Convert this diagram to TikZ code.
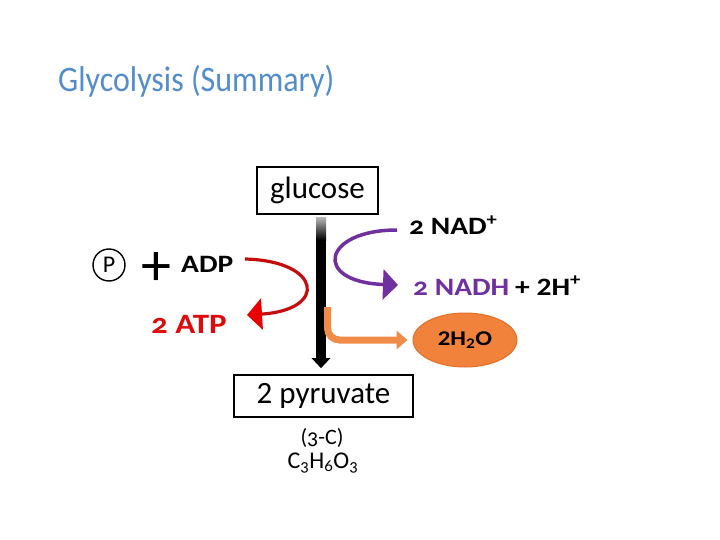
\documentclass[tikz,border=0pt]{standalone}
\usepackage{fontspec}
\setmainfont{Carlito}
\newfontfamily\cand[Numbers=OldStyle]{Carlito}
\newfontfamily\candw[Numbers=OldStyle,FakeStretch=1.18]{Carlito}
\newfontfamily\candl[FakeStretch=1.18]{Carlito}
\usetikzlibrary{arrows.meta,shapes.geometric}
\definecolor{titleblue}{RGB}{84,141,204}
\definecolor{arrred}{RGB}{196,14,14}
\definecolor{tipred}{RGB}{232,0,0}
\definecolor{txtred}{RGB}{225,10,10}
\definecolor{arrpurple}{RGB}{112,48,160}
\definecolor{arrorange}{RGB}{240,140,72}
\definecolor{ellfill}{RGB}{240,130,60}
\definecolor{elldraw}{RGB}{228,112,40}
\tikzset{
  box/.style={draw=black, line width=1.6pt, inner sep=0pt, font=\fontsize{31}{34}\selectfont},
  boldlbl/.style={inner sep=0pt, font=\candw\bfseries\fontsize{25}{28}\selectfont},
  bigarrow/.style={draw=black, line width=10pt, -{Triangle[length=10pt,width=18pt]}},
  redarrow/.style={draw=arrred, line width=3.2pt, -{Triangle[length=15pt,width=31pt,fill=tipred,color=tipred]}},
  purparrow/.style={draw=arrpurple, line width=3.5pt, -{Triangle[length=15pt,width=30pt]}},
  orarrow/.style={draw=arrorange, line width=7pt, rounded corners=12pt, -{Triangle[length=11pt,width=18pt]}},
}
\begin{document}
\begin{tikzpicture}[x=1pt,y=-1pt]
\useasboundingbox (0,0) rectangle (720,540);
\fill[white] (0,0) rectangle (720,540);
% title
\node[anchor=base west, inner sep=0pt, text=titleblue, font=\fontsize{32}{36}\selectfont] (title) at (58,92) {\scalebox{1}[1.12]{Glycolysis (Summary)}};
% boxes
\node[box, minimum width=121pt, minimum height=47pt] (glu) at (317.5,190.5) {glucose};
\node[box, minimum width=179pt, minimum height=42pt] (pyr) at (323.5,396) {2 pyruvate};
\node[anchor=base, inner sep=0pt, font=\cand\fontsize{22}{24}\selectfont] (three) at (322,444) {(3-C)};
\node[anchor=base, inner sep=0pt, font=\cand\fontsize{24}{26}\selectfont] (formula) at (323,468) {C\textsubscript{3}H\textsubscript{6}O\textsubscript{3}};
% main arrow
\draw[bigarrow] ([xshift=3.5pt,yshift=-4pt]glu.south) -- ([xshift=-2.5pt,yshift=6pt]pyr.north);
\shade[top color=gray!60, bottom color=black] (316,218) rectangle (326,240);
% phosphate + ADP
\node[circle, draw=black, line width=1.4pt, minimum size=32pt, inner sep=0pt, font=\fontsize{24}{26}\selectfont] (P) at (109,265) {P};
\node[inner sep=0pt, font=\fontsize{60}{60}\selectfont] (plus) at (156,269) {+};
\node[boldlbl, anchor=base west] (adp) at (181,272) {ADP};
\node[boldlbl, anchor=base west, text=txtred, font=\candw\bfseries\fontsize{28}{30}\selectfont] (atp) at (151,333) {2 ATP};
\coordinate (r1) at (245,259);
\coordinate (r2) at (247,315);
\draw[redarrow] (r1) .. controls (322,261) and (328,310) .. (r2);
% NAD
\node[boldlbl, anchor=base west] (nad) at (409,235) {2 NAD\textsuperscript{+}};
\node[boldlbl, anchor=base west, text=arrpurple] (nadh) at (413,295) {2 NADH};
\node[boldlbl, anchor=base west, font=\candl\bfseries\fontsize{25}{28}\selectfont] (hplus) at (515,295) {+ 2H\textsuperscript{+}};
\coordinate (p1) at (397,230);
\coordinate (p2) at (398,285);
\draw[purparrow] (p1) .. controls (322,230) and (312,282) .. (p2);
% water
\node[ellipse, fill=ellfill, draw=elldraw, line width=1pt, minimum width=104pt, minimum height=54pt, inner sep=0pt, font=\candl\bfseries\fontsize{21}{24}\selectfont] (water) at (465,340) {2H\textsubscript{2}O};
\coordinate (o1) at (327.5,307);
\draw[orarrow] (o1) |- ([xshift=-5pt]water.west);
\end{tikzpicture}
\end{document}
